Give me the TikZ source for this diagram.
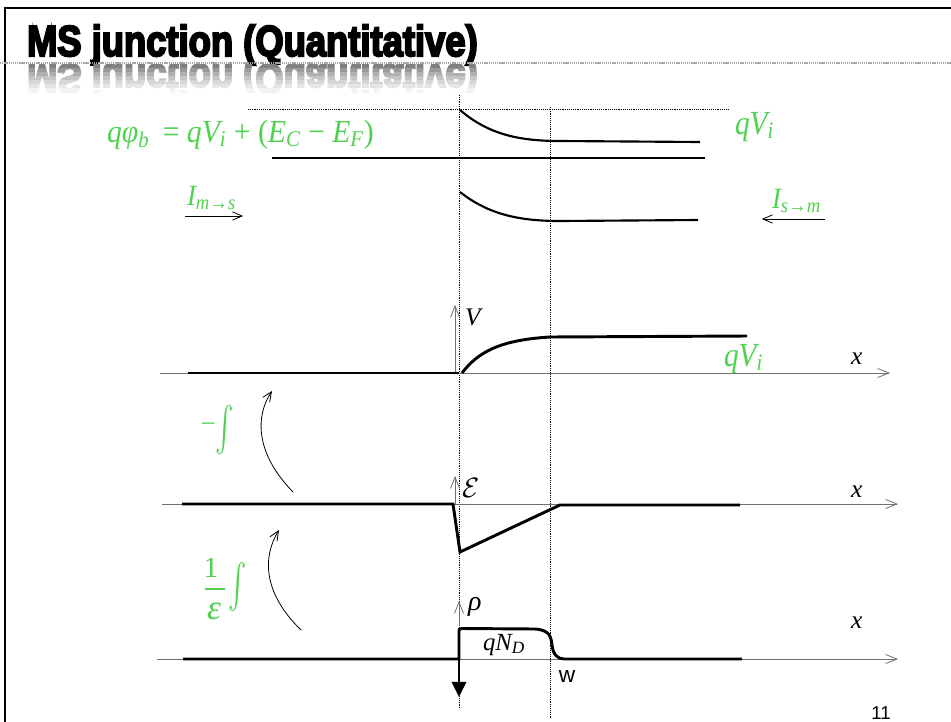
\documentclass[tikz,border=0pt]{standalone}
\usepackage{fontspec}
\usepackage{amsmath}
\usepackage{graphicx}
\setsansfont{Liberation Sans}
\newfontfamily\titlefont[FakeBold=5]{Liberation Sans}
\newfontfamily\tms{Liberation Serif}
\newcommand{\iv}[1]{{\itshape #1}}
\newcommand{\dn}[1]{\textsubscript{#1}}
\usepackage{tikz}
\usetikzlibrary{arrows.meta, positioning}
\definecolor{eqgreen}{RGB}{80,210,80}
\definecolor{axisgray}{HTML}{707070}

\begin{document}
\begin{tikzpicture}[x=0.75pt, y=-0.75pt,
    every node/.style={inner sep=0pt, outer sep=0pt},
    eq/.style={text=eqgreen, font=\tms\fontsize{22.3}{26}\selectfont},
    bigeq/.style={text=eqgreen, font=\tms\fontsize{22}{26}\selectfont},
    smalleq/.style={text=eqgreen, font=\tms\fontsize{20}{24}\selectfont},
    lbl/.style={font=\tms\fontsize{19}{22}\selectfont},
    axis/.style={axisgray, line width=0.6pt, -{Straight Barb[length=3mm, width=2.4mm]}},
    band/.style={line width=1.6pt},
    prof/.style={line width=2.2pt},
    guide/.style={line width=0.7pt, dash pattern=on 0.7pt off 0.7pt},
    curl/.style={line width=0.6pt, -{Straight Barb[length=2.5mm, width=2.2mm]}}
]
    \useasboundingbox (0,0) rectangle (951,722);
    \fill[white] (0,0) rectangle (951,722);
    \draw[line width=1.5pt] (5,722) -- (5,8) -- (951,8);

    \node[anchor=base west] (title) at (27,56)
        {\resizebox{338pt}{23.5pt}{\titlefont\bfseries MS junction (Quantitative)}};
    \foreach \k/\g in {0/50, 1/40, 2/31, 3/23, 4/16, 5/10, 6/5} {
        \begin{scope}
            \clip (0,64+4*\k) rectangle (951,68+4*\k);
            \node[anchor=base west, text=black!\g] (mirror\k) at (27,64)
                {\scalebox{1}[-1]{\resizebox{338pt}{23.5pt}{\titlefont\bfseries MS junction (Quantitative)}}};
        \end{scope}
    }
    \draw[gray!70, line width=1.2pt, dash pattern=on 1pt off 0.6pt] (0,63) -- (951,63);

    \coordinate (g1top) at (459,95);
    \coordinate (g1bot) at (459,709);
    \coordinate (g2top) at (550,107);
    \coordinate (g2bot) at (550,718);
    \draw[guide] (g1top) -- (g1bot);
    \draw[guide] (g2top) -- (g2bot);
    \draw[guide] (248,109) -- (728,109);

    \draw[band] (460,110) .. controls (488,134) and (518,141) .. (560,141) -- (700,142);
    \draw[band] (272,158) -- (705,158);
    \draw[band] (460,192) .. controls (488,214) and (518,221) .. (560,221) -- (698,220);

    \node[eq, anchor=base west] (phib) at (107,142)
        {\scalebox{1}[1.08]{\iv{q}\iv{φ}\dn{\iv{b}}\hspace{0.45em}= \iv{qV}\dn{\iv{i}} + (\iv{E}\dn{\iv{C}} − \iv{E}\dn{\iv{F}})}};
    \node[bigeq, anchor=base west] (vitop) at (735,134) {\scalebox{1}[1.15]{\iv{qV}\dn{\iv{i}}}};
    \node[smalleq, anchor=base west] (ims) at (187,205) {\scalebox{1}[1.1]{\iv{I}\dn{\iv{m}→\iv{s}}}};
    \node[smalleq, anchor=base west] (ism) at (772,208) {\scalebox{1}[1.1]{\iv{I}\dn{\iv{s}→\iv{m}}}};
    \coordinate (imsL) at (185,216);
    \coordinate (imsR) at (243,216);
    \coordinate (ismR) at (825,219);
    \coordinate (ismL) at (762,219);
    \draw[curl] (imsL) -- (imsR);
    \draw[curl] (ismR) -- (ismL);

    \draw[axis] (160,373) -- (890,373);
    \draw[axis] (455,373) -- (455,305);
    \node[lbl, anchor=base west] (vlab) at (465,325) {\iv{V}};
    \draw[prof] (188,373) -- (459,373);
    \draw[prof] (462,373) .. controls (478,352) and (500,340) .. (550,337) -- (747,336);
    \node[bigeq, anchor=base west] (vibot) at (724,366) {\scalebox{1}[1.15]{\iv{qV}\dn{\iv{i}}}};
    \node[lbl, anchor=base west] (xv) at (851,364) {\iv{x}};

    \draw[axis] (162,504) -- (898,504);
    \draw[axis] (455,504) -- (455,476);
    \node[anchor=base west, font=\fontsize{10}{12}\selectfont] (elab) at (462,497)
        {\scalebox{2.1}{$\mathcal{E}$}};
    \draw[prof] (182,504) -- (453,504) -- (460,552) -- (560,505) -- (740,505);
    \node[lbl, anchor=base west] (xe) at (851,497) {\iv{x}};

    \draw[axis] (157,659) -- (898,659);
    \draw[axis] (459,626) -- (459,601);
    \node[lbl, anchor=base west, font=\tms\fontsize{21}{24}\selectfont] (rholab) at (468,610) {\iv{ρ}};
    \draw[prof] (183,659) -- (459,659) -- (459,631) .. controls (459,629) .. (462,628.5)
        -- (535,629) .. controls (550,630) and (551,637) .. (552,645)
        .. controls (553,655) and (558,659) .. (564,659) -- (742,659);
    \node[anchor=base, font=\tms\fontsize{18.5}{22}\selectfont] (qnd) at (504,650) {\iv{qN}\dn{\iv{D}}};
    \node[font=\sffamily\fontsize{17}{20}\selectfont, anchor=base] (wlab) at (567,682) {w};
    \node[lbl, anchor=base west] (xr) at (851,628) {\iv{x}};
    \coordinate (sheet) at (459,660);
    \coordinate (sheetdn) at (459,697);
    \draw[line width=1.8pt, -{Triangle[length=4mm, width=3.8mm]}] (sheet) -- (sheetdn);

    \node[smalleq, anchor=east] (minus) at (216,428) {−};
    \node[smalleq, anchor=west] (negint) at (215,430) {\scalebox{1}[1.6]{$\int$}};
    \node[bigeq, anchor=base] (one) at (211,577) {1};
    \draw[eqgreen, line width=0.8pt] (205,589) -- (225,589);
    \node[bigeq, anchor=base] (epsden) at (214,619) {\scalebox{1.2}{\iv{ε}}};
    \node[smalleq, anchor=west] (epsint) at (228,587) {\scalebox{1}[1.6]{$\int$}};
    \coordinate (c1s) at (293,492);
    \coordinate (c1e) at (272,391);
    \coordinate (c2s) at (301,630);
    \coordinate (c2e) at (279,530);
    \draw[curl] (c1s) .. controls (254,452) and (256,415) .. (c1e);
    \draw[curl] (c2s) .. controls (262,592) and (263,556) .. (c2e);

    \node[font=\sffamily\fontsize{14}{16}\selectfont, anchor=base] (pageno) at (881,719) {11};
\end{tikzpicture}
\end{document}
